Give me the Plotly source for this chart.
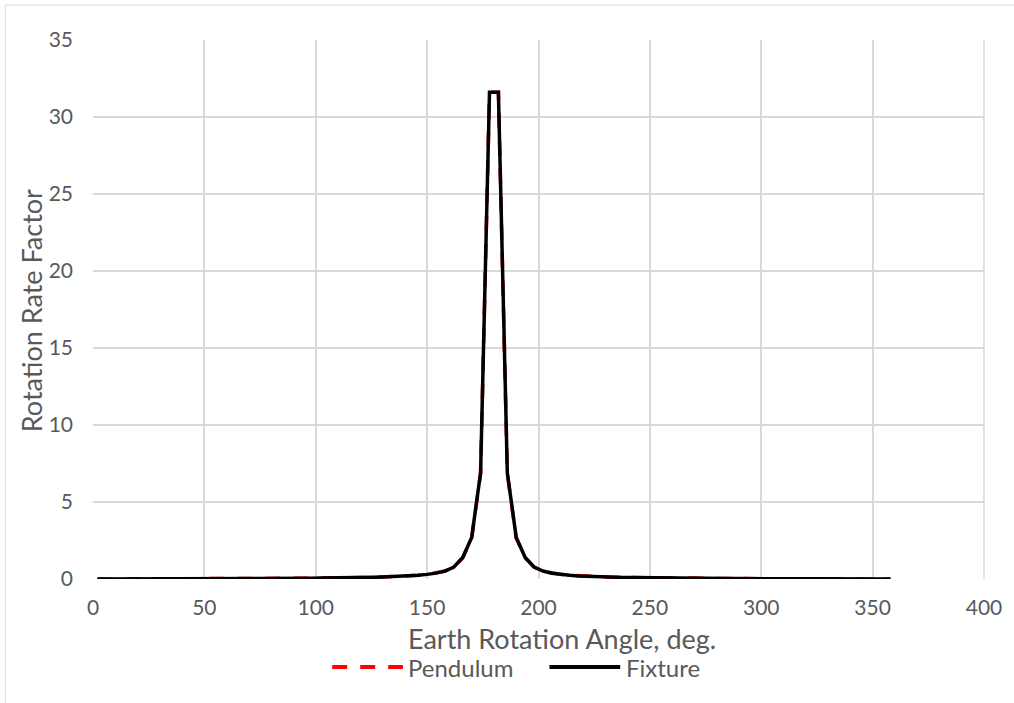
import plotly.graph_objects as go

angles = list(range(2, 360, 4))

fixture = [0.00, 0.00, 0.00, 0.00, 0.01, 0.01, 0.01, 0.01, 0.01, 0.01,
           0.01, 0.01, 0.02, 0.02, 0.02, 0.02, 0.02, 0.03, 0.03, 0.03,
           0.03, 0.04, 0.04, 0.05, 0.05, 0.06, 0.06, 0.07, 0.08, 0.09,
           0.10, 0.11, 0.13, 0.15, 0.17, 0.20, 0.24, 0.30, 0.38, 0.52,
           0.78, 1.40, 2.70, 6.90, 31.60,
           31.60, 6.90, 2.70, 1.40, 0.78, 0.52, 0.38, 0.30, 0.24, 0.20,
           0.17, 0.15, 0.13, 0.11, 0.10, 0.09, 0.08, 0.07, 0.06, 0.06,
           0.05, 0.05, 0.04, 0.04, 0.03, 0.03, 0.03, 0.03, 0.02, 0.02,
           0.02, 0.02, 0.02, 0.01, 0.01, 0.01, 0.01, 0.01, 0.01, 0.01,
           0.01, 0.00, 0.00, 0.00, 0.00]

pendulum = [0.00, 0.00, 0.00, 0.00, 0.01, 0.01, 0.01, 0.01, 0.01, 0.01,
            0.01, 0.01, 0.02, 0.02, 0.02, 0.02, 0.02, 0.03, 0.03, 0.03,
            0.03, 0.04, 0.04, 0.05, 0.05, 0.06, 0.06, 0.07, 0.08, 0.09,
            0.10, 0.11, 0.13, 0.15, 0.17, 0.20, 0.24, 0.30, 0.38, 0.51,
            0.77, 1.38, 2.66, 6.85, 31.60,
            31.60, 6.85, 2.66, 1.38, 0.77, 0.51, 0.38, 0.30, 0.24, 0.20,
            0.17, 0.15, 0.13, 0.11, 0.10, 0.09, 0.08, 0.07, 0.06, 0.06,
            0.05, 0.05, 0.04, 0.04, 0.03, 0.03, 0.03, 0.03, 0.02, 0.02,
            0.02, 0.02, 0.02, 0.01, 0.01, 0.01, 0.01, 0.01, 0.01, 0.01,
            0.01, 0.00, 0.00, 0.00, 0.00]

series_names = ["Pendulum", "Fixture"]
x_title = "Earth Rotation Angle, deg."
y_title = "Rotation Rate Factor"

FONT = "Lato"
TXT = "#595959"
GRID = "#d9d9d9"
RED = "#ff0000"
BLACK = "#000000"

fig = go.Figure()
fig.add_trace(go.Scatter(x=angles, y=pendulum, name=series_names[0], mode="lines",
                         showlegend=False,
                         line=dict(color=RED, width=3.5, dash="15px,13px")))
fig.add_trace(go.Scatter(x=angles, y=fixture, name=series_names[1], mode="lines",
                         showlegend=False,
                         line=dict(color=BLACK, width=3.5)))

L, R, T, B = 93, 27, 40, 124
W, H = 1014, 703
pw, ph = W - L - R, H - T - B

def px2x(p):
    return (p - L) / pw

def px2y(p):
    return (H - B - p) / ph

# outer chart border
fig.add_shape(type="rect", xref="paper", yref="paper",
              x0=px2x(5), x1=px2x(1030), y0=px2y(720), y1=px2y(5),
              line=dict(color=GRID, width=1), layer="below")
# right edge of plot area
fig.add_shape(type="line", xref="paper", yref="paper", x0=1, x1=1, y0=0, y1=1,
              line=dict(color=GRID, width=1.5), layer="below")

# legend (manual)
leg_y = px2y(667)
fig.add_shape(type="line", xref="paper", yref="paper",
              x0=px2x(333), x1=px2x(404), y0=leg_y, y1=leg_y,
              line=dict(color=RED, width=4, dash="15px,13px"))
fig.add_annotation(xref="paper", yref="paper", x=px2x(407), y=leg_y,
                   text=series_names[0], showarrow=False, xanchor="left", yanchor="middle",
                   font=dict(size=24, color=TXT, family=FONT))
fig.add_shape(type="line", xref="paper", yref="paper",
              x0=px2x(551), x1=px2x(622), y0=leg_y, y1=leg_y,
              line=dict(color=BLACK, width=4))
fig.add_annotation(xref="paper", yref="paper", x=px2x(626), y=leg_y,
                   text=series_names[1], showarrow=False, xanchor="left", yanchor="middle",
                   font=dict(size=24, color=TXT, family=FONT))

# axis titles
fig.add_annotation(xref="paper", yref="paper", x=px2x(564), y=px2y(638),
                   text=x_title, showarrow=False, xanchor="center", yanchor="middle",
                   font=dict(size=27, color=TXT, family=FONT))
fig.add_annotation(xref="paper", yref="paper", x=px2x(31), y=px2y(311),
                   text=y_title, showarrow=False, xanchor="center", yanchor="middle",
                   textangle=-90,
                   font=dict(size=27, color=TXT, family=FONT))

fig.update_layout(
    width=W, height=H,
    margin=dict(l=L, r=R, t=T, b=B),
    paper_bgcolor="white", plot_bgcolor="white",
    font=dict(family=FONT, color=TXT),
    showlegend=False,
    xaxis=dict(range=[0, 400], dtick=50, tick0=0, showgrid=True, gridcolor=GRID,
               gridwidth=1.5, zeroline=False, showline=False, ticks="",
               ticklabelstandoff=14,
               tickfont=dict(size=21, color=TXT, family=FONT)),
    yaxis=dict(range=[0, 35], dtick=5, tick0=0, showgrid=True, gridcolor=GRID,
               gridwidth=1.5, zeroline=False, showline=False, ticks="",
               ticklabelstandoff=19,
               tickfont=dict(size=21, color=TXT, family=FONT)),
)

fig.write_html("out.html")
